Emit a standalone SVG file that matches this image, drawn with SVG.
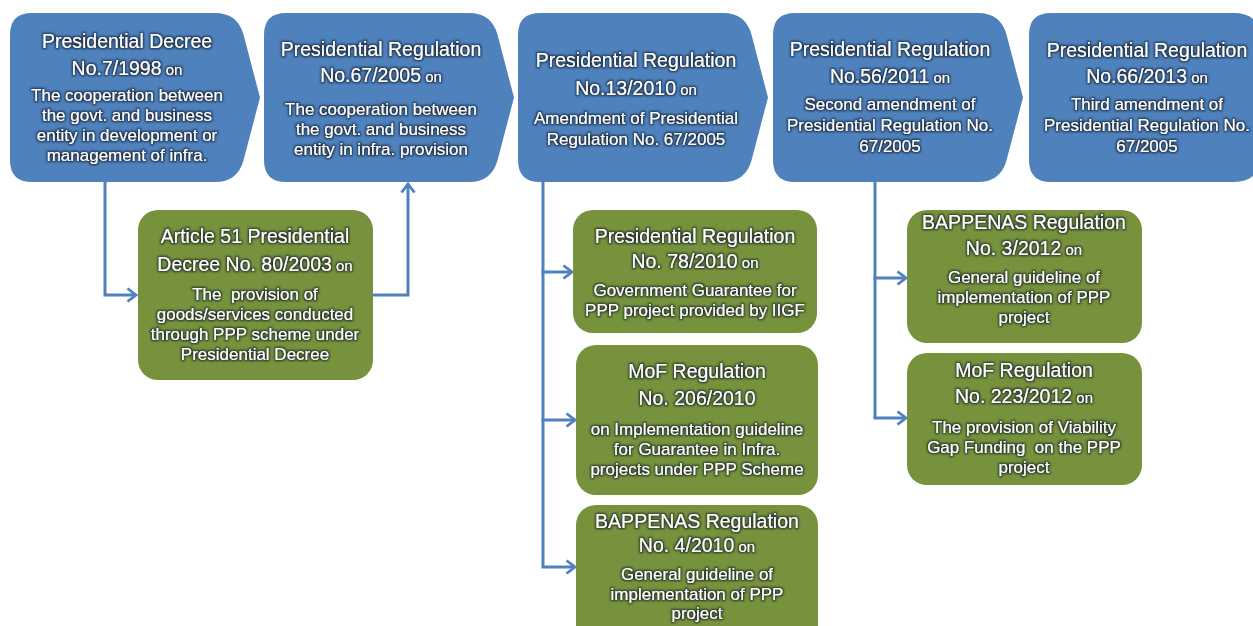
<svg xmlns="http://www.w3.org/2000/svg" width="1253" height="626" viewBox="0 0 1253 626">
<style>
.blue{fill:#4f81bd;}
.green{fill:#76923c;}
text{font-family:"Liberation Sans",Arial,sans-serif;fill:#ffffff;text-anchor:middle;}
.t{font-size:19.5px;}
.b{font-size:17px;}
.on{font-size:15px;}
.lbl{filter:url(#glow);}
.conn{fill:none;stroke:#4f81bd;stroke-width:3;}
</style>
<defs>
<filter id="glow" x="-10%" y="-30%" width="120%" height="160%">
<feMorphology in="SourceAlpha" operator="dilate" radius="1" result="d"/>
<feGaussianBlur in="d" stdDeviation="1.1" result="bl"/>
<feFlood flood-color="#0e1a28" flood-opacity="0.8"/>
<feComposite in2="bl" operator="in" result="s"/>
<feMerge><feMergeNode in="s"/><feMergeNode in="SourceGraphic"/></feMerge>
</filter>
<marker id="arr" viewBox="0 0 12 16" refX="10" refY="8" markerWidth="12" markerHeight="16" markerUnits="userSpaceOnUse" orient="auto">
<path d="M1.5,1.5 L10,8 L1.5,14.5" fill="none" stroke="#4f81bd" stroke-width="2.8"/>
</marker>
<path id="chev" d="M22,13 H205 Q227.7,13 233.6,35 L250,97.5 L233.6,160 Q227.7,182 205,182 H22 Q0,182 0,160 V35 Q0,13 22,13 Z"/>
</defs>

<g id="connectors">
<path class="conn" d="M105,182 V295 H136" marker-end="url(#arr)"/>
<path class="conn" d="M373,295 H408 V184" marker-end="url(#arr)"/>
<path class="conn" d="M543,182 V567"/>
<path class="conn" d="M541.5,272 H572" marker-end="url(#arr)"/>
<path class="conn" d="M541.5,420 H575" marker-end="url(#arr)"/>
<path class="conn" d="M541.5,567 H575" marker-end="url(#arr)"/>
<path class="conn" d="M875,182 V418"/>
<path class="conn" d="M873.5,278 H906" marker-end="url(#arr)"/>
<path class="conn" d="M873.5,418 H906" marker-end="url(#arr)"/>
</g>

<g id="pd7-1998">
<use href="#chev" class="blue" x="10"/>
<g class="lbl">
<text class="t" x="127" y="48">Presidential Decree</text>
<text class="t" x="127" y="75">No.7/1998<tspan class="on"> on</tspan></text>
<text class="b" x="127" y="101">The cooperation between</text>
<text class="b" x="127" y="121">the govt. and business</text>
<text class="b" x="127" y="141">entity in development or</text>
<text class="b" x="127" y="161">management of infra.</text>
</g>
</g>

<g id="pr67-2005">
<use href="#chev" class="blue" x="264"/>
<g class="lbl">
<text class="t" x="381" y="56">Presidential Regulation</text>
<text class="t" x="381" y="82">No.67/2005<tspan class="on"> on</tspan></text>
<text class="b" x="381" y="115">The cooperation between</text>
<text class="b" x="381" y="135">the govt. and business</text>
<text class="b" x="381" y="155">entity in infra. provision</text>
</g>
</g>

<g id="pr13-2010">
<use href="#chev" class="blue" x="518"/>
<g class="lbl">
<text class="t" x="636" y="67">Presidential Regulation</text>
<text class="t" x="636" y="95">No.13/2010<tspan class="on"> on</tspan></text>
<text class="b" x="636" y="124">Amendment of Presidential</text>
<text class="b" x="636" y="145">Regulation No. 67/2005</text>
</g>
</g>

<g id="pr56-2011">
<use href="#chev" class="blue" x="773"/>
<g class="lbl">
<text class="t" x="890" y="56">Presidential Regulation</text>
<text class="t" x="890" y="83">No.56/2011<tspan class="on"> on</tspan></text>
<text class="b" x="890" y="110">Second amendment of</text>
<text class="b" x="890" y="131">Presidential Regulation No.</text>
<text class="b" x="890" y="152">67/2005</text>
</g>
</g>

<g id="pr66-2013">
<use href="#chev" class="blue" x="1029"/>
<g class="lbl">
<text class="t" x="1147" y="57">Presidential Regulation</text>
<text class="t" x="1147" y="83">No.66/2013<tspan class="on"> on</tspan></text>
<text class="b" x="1147" y="110">Third amendment of</text>
<text class="b" x="1147" y="131">Presidential Regulation No.</text>
<text class="b" x="1147" y="152">67/2005</text>
</g>
</g>

<g id="pd80-2003">
<rect class="green" x="138" y="210" width="235" height="170" rx="20"/>
<g class="lbl">
<text class="t" x="255" y="243">Article 51 Presidential</text>
<text class="t" x="255" y="271">Decree No. 80/2003<tspan class="on"> on</tspan></text>
<text class="b" x="255" y="300" xml:space="preserve">The  provision of</text>
<text class="b" x="255" y="320">goods/services conducted</text>
<text class="b" x="255" y="340">through PPP scheme under</text>
<text class="b" x="255" y="360">Presidential Decree</text>
</g>
</g>

<g id="pr78-2010">
<rect class="green" x="573" y="210" width="244" height="123" rx="20"/>
<g class="lbl">
<text class="t" x="695" y="243">Presidential Regulation</text>
<text class="t" x="695" y="268">No. 78/2010<tspan class="on"> on</tspan></text>
<text class="b" x="695" y="296">Government Guarantee for</text>
<text class="b" x="695" y="316">PPP project provided by IIGF</text>
</g>
</g>

<g id="mof206-2010">
<rect class="green" x="576" y="345" width="242" height="150" rx="20"/>
<g class="lbl">
<text class="t" x="697" y="378">MoF Regulation</text>
<text class="t" x="697" y="405">No. 206/2010</text>
<text class="b" x="697" y="435">on Implementation guideline</text>
<text class="b" x="697" y="455">for Guarantee in Infra.</text>
<text class="b" x="697" y="475">projects under PPP Scheme</text>
</g>
</g>

<g id="bappenas4-2010">
<rect class="green" x="576" y="505" width="242" height="140" rx="20"/>
<g class="lbl">
<text class="t" x="697" y="528">BAPPENAS Regulation</text>
<text class="t" x="697" y="552">No. 4/2010<tspan class="on"> on</tspan></text>
<text class="b" x="697" y="580">General guideline of</text>
<text class="b" x="697" y="600">implementation of PPP</text>
<text class="b" x="697" y="619">project</text>
</g>
</g>

<g id="bappenas3-2012">
<rect class="green" x="907" y="210" width="235" height="133" rx="20"/>
<g class="lbl">
<text class="t" x="1024" y="229">BAPPENAS Regulation</text>
<text class="t" x="1024" y="255">No. 3/2012<tspan class="on"> on</tspan></text>
<text class="b" x="1024" y="283">General guideline of</text>
<text class="b" x="1024" y="303">implementation of PPP</text>
<text class="b" x="1024" y="323">project</text>
</g>
</g>

<g id="mof223-2012">
<rect class="green" x="907" y="353" width="235" height="132" rx="20"/>
<g class="lbl">
<text class="t" x="1024" y="377">MoF Regulation</text>
<text class="t" x="1024" y="403">No. 223/2012<tspan class="on"> on</tspan></text>
<text class="b" x="1024" y="433">The provision of Viability</text>
<text class="b" x="1024" y="453" xml:space="preserve">Gap Funding  on the PPP</text>
<text class="b" x="1024" y="473">project</text>
</g>
</g>
</svg>
